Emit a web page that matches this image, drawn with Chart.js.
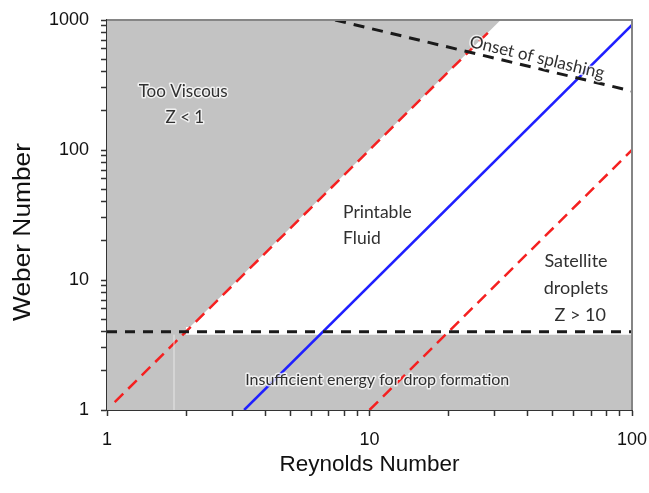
<!DOCTYPE html>
<html><head><meta charset="utf-8">
<script src="https://cdn.jsdelivr.net/npm/chart.js@4/dist/chart.umd.min.js"></script>
<style>html,body{margin:0;padding:0;background:#fff}#wrap{width:649px;height:493px}</style>
</head><body><div id="wrap"><canvas id="c" width="649" height="493"></canvas></div>
<script>
// ---- data (Reynolds number on x, Weber number on y) ----
const xTicks = [1,2,3,4,5,6,7,8,9,10,20,30,40,50,60,70,80,90,100];
const yTicks = [1,2,3,4,5,6,7,8,9,10,20,30,40,50,60,70,80,90,100,200,300,400,500,600,700,800,900,1000];
// gray regions
const viscousRe = [1, 2.07, 31.6];
const viscousWe = [4.35, 4.35, 1000];
const lowLeftRe = [1, 2.0];
const lowLeftWe = [4.35, 4.35];
const lowRightRe = [1.8, 100];
const lowRightWe = [3.8, 3.8];
// boundary lines
const z1Re = [1.07, 29.5];
const z1We = [1.15, 870];
const z10Re = [10, 100];
const z10We = [1, 100];
const blueRe = [3.33, 100];
const blueWe = [1, 917];
const splashRe = [7.4, 100];
const splashWe = [1000, 284];
const energyRe = [1, 100];
const energyWe = [4, 4];
// text labels
const labelText = ['Too Viscous','Z < 1','Printable','Fluid','Satellite','droplets','Z > 10','Insufficient energy for drop formation','Onset of splashing'];
const labelRe = [1.95, 1.98, 7.93, 7.93, 61.2, 61.2, 63.5, 10.7, 43.5];
const labelWe = [284, 178, 33.3, 21.0, 14.0, 8.68, 5.38, 1.70, 515];
const labelSize = [17, 17, 17.5, 17.5, 18, 18, 18, 16, 17];

const pts = (xs, ys) => xs.map((x, i) => ({x, y: ys[i]}));
const GRAY = '#c3c3c3';

const fillSet = (xs, ys, fill) => ({data: pts(xs, ys), showLine: true, fill, backgroundColor: GRAY,
  borderColor: GRAY, borderWidth: 0, pointRadius: 0, order: 10, tension: 0});
const lineSet = (xs, ys, color, width, dash) => ({data: pts(xs, ys), showLine: true, fill: false,
  borderColor: color, borderWidth: width, borderDash: dash, pointRadius: 0, order: 1, tension: 0});

const labelPlugin = {
  id: 'labels',
  afterDatasetsDraw(chart) {
    const {ctx, scales: {x, y}} = chart;
    ctx.save();
    ctx.textBaseline = 'middle';
    labelText.forEach((t, i) => {
      const px = x.getPixelForValue(labelRe[i]);
      const py = y.getPixelForValue(labelWe[i]);
      ctx.save();
      ctx.font = labelSize[i] + 'px Lato';
      ctx.translate(px, py);
      let align = 'center';
      if (t === 'Printable' || t === 'Fluid') align = 'left';
      if (t === 'Onset of splashing') {
        const ax = x.getPixelForValue(splashRe[0]), ay = y.getPixelForValue(splashWe[0]);
        const bx = x.getPixelForValue(splashRe[1]), by = y.getPixelForValue(splashWe[1]);
        ctx.rotate(Math.atan2(by - ay, bx - ax));
      }
      ctx.textAlign = align;
      ctx.lineJoin = 'round';
      ctx.strokeStyle = 'rgba(255,255,255,0.75)';
      ctx.lineWidth = 3;
      ctx.strokeText(t, 0, 0);
      ctx.fillStyle = '#303030';
      ctx.fillText(t, 0, 0);
      ctx.restore();
    });
    // top and right frame
    const a = chart.chartArea;
    ctx.strokeStyle = '#858585';
    ctx.lineWidth = 2;
    ctx.beginPath();
    ctx.moveTo(a.left, a.top); ctx.lineTo(a.right, a.top); ctx.lineTo(a.right, a.bottom);
    ctx.stroke();
    // y axis title
    ctx.save();
    ctx.translate(23.5, 232);
    ctx.rotate(-Math.PI / 2);
    ctx.scale(1.12, 1);
    ctx.font = '23.5px Arial';
    ctx.fillStyle = '#111';
    ctx.textAlign = 'center';
    ctx.textBaseline = 'middle';
    ctx.fillText('Weber Number', 0, 0);
    ctx.restore();
    ctx.restore();
  }
};

const tickLabel = v => {
  const l = Math.log10(v);
  return Math.abs(l - Math.round(l)) < 1e-9 ? String(v) : '';
};

new Chart(document.getElementById('c'), {
  type: 'scatter',
  data: {datasets: [
    fillSet(viscousRe, viscousWe, 'end'),
    fillSet(lowLeftRe, lowLeftWe, 'start'),
    fillSet(lowRightRe, lowRightWe, 'start'),
    lineSet([1.8, 1.8], [1, 3.8], 'rgba(238,238,238,0.85)', 1, []),
    lineSet(energyRe, energyWe, '#1a1a1a', 3, [10, 8]),
    lineSet(splashRe, splashWe, '#1a1a1a', 3, [11, 8]),
    lineSet(z1Re, z1We, '#f52020', 2.5, [12, 7]),
    lineSet(z10Re, z10We, '#f52020', 2.5, [12, 7]),
    lineSet(blueRe, blueWe, '#1f1fff', 2.5, [])
  ]},
  options: {
    responsive: false, animation: false,
    layout: {padding: {left: 0, top: 20, right: 17, bottom: 0}},
    plugins: {legend: {display: false}, tooltip: {enabled: false}},
    scales: {
      x: {
        type: 'logarithmic', min: 1, max: 100,
        afterBuildTicks: s => { s.ticks = xTicks.map(v => ({value: v})); },
        afterFit: s => { s.height = 83; s.paddingLeft = 0; s.paddingRight = 0; },
        grid: {drawOnChartArea: false, drawTicks: true, tickLength: 6, color: '#333', tickWidth: 1.5},
        border: {display: true, color: '#333', width: 2},
        ticks: {autoSkip: false, maxRotation: 0, padding: 13, color: '#111',
          font: {family: 'Arial', size: 18}, callback: tickLabel},
        title: {display: true, text: 'Reynolds Number', color: '#111',
          font: {family: 'Arial', size: 22.5}, padding: {top: 0, bottom: 15}}
      },
      y: {
        type: 'logarithmic', min: 1, max: 1000,
        afterBuildTicks: s => { s.ticks = yTicks.map(v => ({value: v})); },
        afterFit: s => { s.width = 107; s.paddingTop = 0; s.paddingBottom = 0; },
        grid: {drawOnChartArea: false, drawTicks: true, tickLength: 6, color: '#333', tickWidth: 1.5},
        border: {display: true, color: '#333', width: 2},
        ticks: {autoSkip: false, padding: 12, color: '#111',
          font: {family: 'Arial', size: 18}, callback: tickLabel},
        title: {display: false}
      }
    }
  },
  plugins: [labelPlugin]
});
</script></body></html>
